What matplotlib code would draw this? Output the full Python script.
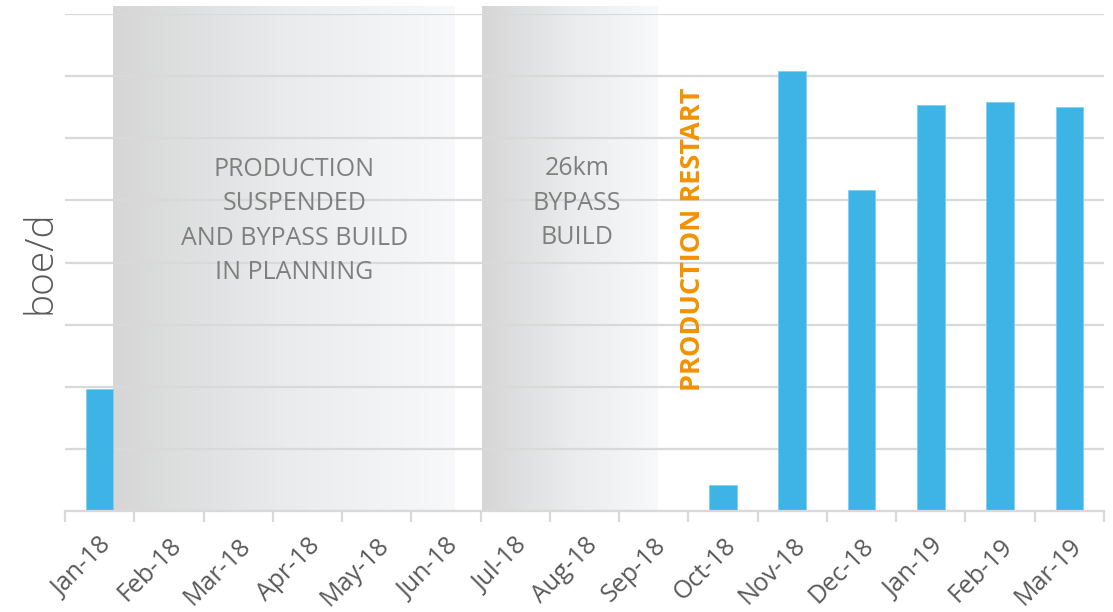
import numpy as np
import matplotlib
matplotlib.use("Agg")
import matplotlib.pyplot as plt
import matplotlib.transforms as mtransforms
from matplotlib.colors import LinearSegmentedColormap

plt.rcParams['font.family'] = ['Open Sans', 'DejaVu Sans']

months = ["Jan-18", "Feb-18", "Mar-18", "Apr-18", "May-18", "Jun-18", "Jul-18",
          "Aug-18", "Sep-18", "Oct-18", "Nov-18", "Dec-18", "Jan-19", "Feb-19", "Mar-19"]
production = [196, 0, 0, 0, 0, 0, 0, 0, 0, 42, 708, 516, 654, 659, 651]

fig = plt.figure(figsize=(11.13, 6.12), dpi=100)
ax = fig.add_axes([65/1113, 1 - 511/612, (1104 - 65)/1113, (511 - 14)/612])

x = np.arange(len(months))
ax.set_xlim(-0.5, len(months) - 0.5)
ax.set_ylim(0, 800)

ax.set_yticks(np.arange(0, 801, 100))
ax.yaxis.grid(True, color="#d9d9d9", linewidth=1.6, zorder=0.5)
ax.set_axisbelow(True)
ax.tick_params(axis='y', length=0, labelleft=False)

# shaded gradient periods (grid lines show through)
cmap = LinearSegmentedColormap.from_list("shade", ["#d6d6d6", "#e9ebec", "#f7f9fa"])
grad = np.linspace(0, 1, 256).reshape(1, -1)
for (x0, x1) in [(0.2, 5.13), (5.52, 8.05)]:
    ax.imshow(grad, cmap=cmap, aspect='auto', extent=(x0, x1, 0, 812),
              zorder=0.2, clip_on=False, interpolation='bicubic')

ax.bar(x, production, width=0.4, color="#3db4e5", edgecolor="#7fd0f0",
       linewidth=0.6, zorder=3)

ax.set_xticks(x)
ax.set_xticklabels(months, rotation=45, ha='right', rotation_mode='anchor',
                   fontsize=18, color="#595959")
offset = mtransforms.ScaledTranslation(2/100, 0, fig.dpi_scale_trans)
for lbl in ax.get_xticklabels():
    lbl.set_transform(lbl.get_transform() + offset)
ax.set_xticks(np.arange(-0.5, len(months), 1), minor=True)
ax.tick_params(axis='x', which='major', length=0, pad=16)
ax.tick_params(axis='x', which='minor', length=8, width=1.6, color="#d9d9d9")

for side in ['top', 'right', 'left']:
    ax.spines[side].set_visible(False)
ax.spines['bottom'].set_color("#d9d9d9")
ax.spines['bottom'].set_linewidth(1.6)
ax.spines['bottom'].set_zorder(4)

ax.set_ylabel("boe/d", fontsize=28, color="#595959", labelpad=4, fontweight='light')

ax.text(2.81, 467, "PRODUCTION\nSUSPENDED\nAND BYPASS BUILD\nIN PLANNING",
        ha='center', va='center', fontsize=18, color="#7f7f7f",
        linespacing=1.5, zorder=5)
ax.text(6.89, 495, "26km\nBYPASS\nBUILD", ha='center', va='center',
        fontsize=18, color="#7f7f7f", linespacing=1.5, zorder=5)
ax.text(8.57, 437, "PRODUCTION RESTART", rotation=90, ha='center', va='center',
        fontsize=19.5, fontweight='bold', color="#f39200", zorder=5)

fig.savefig("out.png", dpi=100)
